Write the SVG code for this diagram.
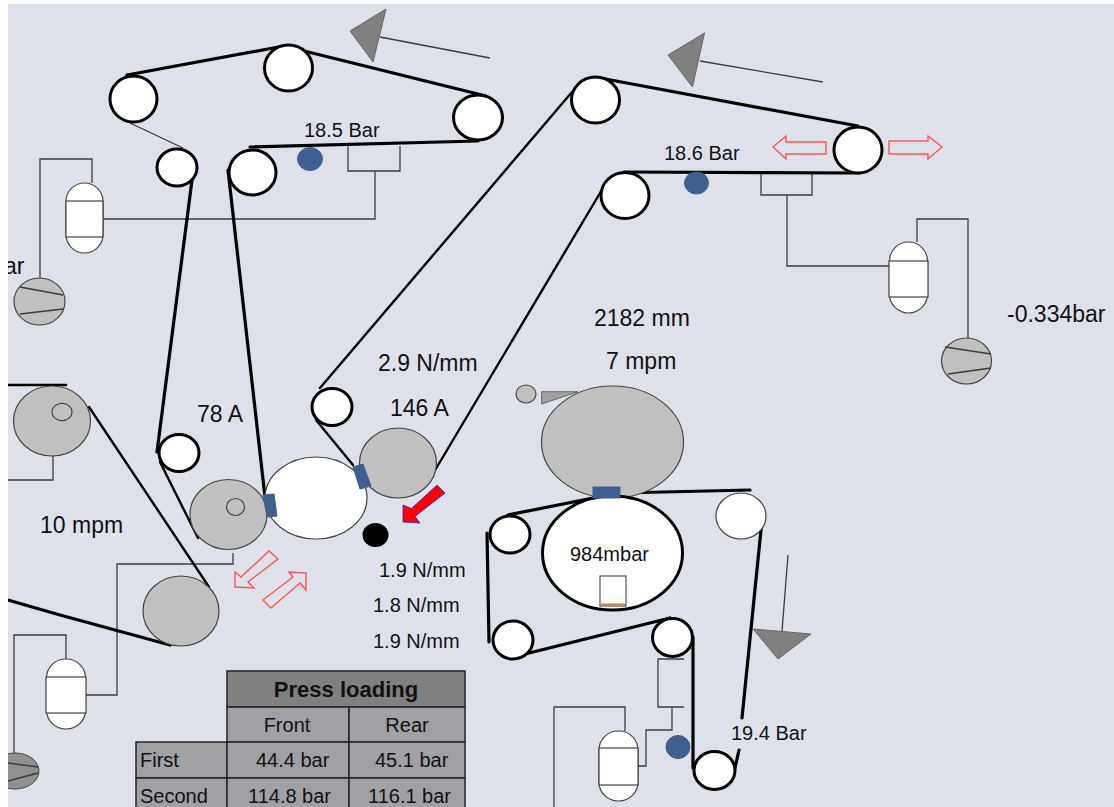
<svg xmlns="http://www.w3.org/2000/svg" width="1114" height="807" viewBox="0 0 1114 807">
<style>
text{font-family:"Liberation Sans",Arial,sans-serif;fill:#111;font-size:20px}
.l{font-size:23px}
.m{text-anchor:middle}
.belt{fill:none;stroke:#000;stroke-width:3.2;stroke-linecap:round;stroke-linejoin:round}
.belt2{fill:none;stroke:#000;stroke-width:2.4;stroke-linecap:round}
.thin{fill:none;stroke:#3c3c3c;stroke-width:1.3}
.roll{fill:#fff;stroke:#000;stroke-width:3}
.grey{fill:#c0c0c0;stroke:#444;stroke-width:1.2}
.white{fill:#fff;stroke:#444;stroke-width:1.2}
.blue{fill:#3d6090;stroke:#3d6090}
.tri{fill:#808080;stroke:#666;stroke-width:1}
.red{fill:none;stroke:#f55;stroke-width:1.4}
.cell{fill:#a0a0a5;stroke:#222;stroke-width:1.5}
</style>
<rect width="1114" height="807" fill="#dfe1ea"/>

<g id="connectors">
<path class="thin" d="M92 183V159H40V278"/>
<path class="thin" d="M103 219H375V171M348 146V171H400V146"/>
<path class="thin" d="M130 123L183 148"/>
<path class="thin" d="M380 37L490 58"/>
<path class="thin" d="M700 61L823 82"/>
<path class="thin" d="M787 195V266H889M761 174V195H812V174"/>
<path class="thin" d="M917 242V219H968V338"/>
<path class="thin" d="M53 456V480H8"/>
<path class="thin" d="M233 553V564H117V695H86"/>
<path class="thin" d="M66 659V635H14V755"/>
<path class="thin" d="M684 659H658V707H684M672 707V730H646V766H638"/>
<path class="thin" d="M625 731V707H554V807"/>
<path class="thin" d="M788 555L782 631"/>
<path class="belt" d="M127 75L284 46L486 96"/>
<path class="belt" d="M250 147L478 141"/>
<path class="belt" d="M192 180L157 452"/>
<path class="belt2" d="M160 462L198 538"/>
<path class="belt" d="M228 170L265 497"/>
<path class="belt2" d="M8 385H66"/>
<path class="belt2" d="M89 407L209 587"/>
<path class="belt" d="M8 600L60 615L170 645"/>
<path class="belt2" d="M572 92L320 388"/>
<path class="belt2" d="M316 420L353 465"/>
<path class="belt2" d="M603 188L431 477"/>
<path class="belt" d="M600 78L858 126"/>
<path class="belt" d="M624 172L859 173"/>
<path class="belt" d="M508 515L593 498"/>
<path class="belt" d="M620 493L750 490"/>
<path class="belt" d="M487 533L489 642"/>
<path class="belt" d="M525 654L670 618"/>
<path class="belt" d="M693 637V768"/>
<path class="belt" d="M762 520L742 718"/>
<path class="belt" d="M739 750L735 768"/>
</g>

<g id="tension-1"><polygon class="tri" points="386,9 350,31 373,62"/></g>
<g id="tension-2"><polygon class="tri" points="704.500,33 668,55 692.500,87"/></g>
<g id="tension-3"><polygon class="tri" points="753,629 811,634 778,659"/></g>

<g id="roller-a"><ellipse class="roll" cx="133.500" cy="99" rx="23.500" ry="23"/></g>
<g id="roller-b"><ellipse class="roll" cx="288.500" cy="68" rx="24" ry="23"/></g>
<g id="roller-c"><ellipse class="roll" cx="478" cy="117.500" rx="24.500" ry="22.500"/></g>
<g id="roller-d"><ellipse class="roll" cx="177" cy="167.500" rx="20" ry="18.500"/></g>
<g id="roller-e"><ellipse class="roll" cx="252.500" cy="172.500" rx="23.500" ry="22.500"/></g>
<g id="roller-f"><ellipse class="roll" cx="179" cy="453" rx="20" ry="18.500"/></g>
<g id="roller-j"><ellipse class="roll" cx="332" cy="407" rx="20" ry="18.500"/></g>
<g id="roller-r1"><ellipse class="roll" cx="595.500" cy="100" rx="24" ry="23"/></g>
<g id="roller-r2"><ellipse class="roll" cx="858" cy="150" rx="24" ry="23"/></g>
<g id="roller-r3"><ellipse class="roll" cx="625" cy="195.500" rx="24" ry="23"/></g>
<g id="roller-l1"><ellipse class="roll" cx="510" cy="534.500" rx="20" ry="18.500"/></g>
<g id="roller-l2"><ellipse class="roll" cx="513" cy="640" rx="20" ry="19"/></g>
<g id="roller-l3"><ellipse class="roll" cx="672.500" cy="637.500" rx="20" ry="19"/></g>
<g id="roller-l4"><ellipse class="roll" cx="714.500" cy="770.500" rx="20.500" ry="19"/></g>
<g id="roller-l5"><ellipse class="white" cx="741" cy="516" rx="25" ry="23"/></g>

<g id="grey-roll-g"><ellipse class="grey" cx="52" cy="421" rx="38.500" ry="35"/><ellipse class="grey" cx="62" cy="412" rx="10" ry="8.700"/></g>
<g id="press-white"><ellipse class="white" cx="316" cy="498" rx="51" ry="41"/></g>
<g id="grey-roll-h"><ellipse class="grey" cx="228.500" cy="514.500" rx="38.500" ry="35"/><ellipse class="grey" cx="235.500" cy="507" rx="9" ry="8.500"/></g>
<g id="grey-roll-i"><ellipse class="grey" cx="398" cy="463" rx="38.500" ry="35"/></g>
<g id="grey-roll-k"><ellipse class="grey" cx="181" cy="611" rx="38" ry="35"/></g>
<g id="blue-block-1"><polygon class="blue" points="263,495 274,494 277,516 267,517"/></g>
<g id="blue-block-2"><polygon class="blue" points="353,467 363,464 371,486 360,489"/></g>
<g id="black-dot"><ellipse cx="375.500" cy="535" rx="13" ry="12" fill="#000"/></g>
<g id="red-arrow"><polygon points="437,485 445,493 415,516.500 420,523 403,522 403,505 411.500,508.500" fill="#f00" stroke="#22f" stroke-width="0.800"/></g>
<g id="arrow-out"><polygon class="red" points="235,587 235,572 241,577 269,551 278,559 248,582 254,588"/></g>
<g id="arrow-in"><polygon class="red" points="306,573 289,572 293,577 263,600 271,608 300,583 306,590"/></g>
<g id="arrow-left"><polygon class="red" points="773,147 786,136 786,142 826,142 826,154 786,154 786,159"/></g>
<g id="arrow-right"><polygon class="red" points="942,147 928,136 928,141 889,141 889,154 928,154 928,159"/></g>

<g id="head-box">
<path d="M541.700 391.700H578L541.700 404Z" fill="#a0a0a5" stroke="#666"/>
<ellipse class="grey" cx="526" cy="394" rx="10" ry="9"/>
</g>
<g id="big-grey"><ellipse class="grey" cx="612.500" cy="442" rx="71" ry="56"/></g>
<g id="big-white"><ellipse class="roll" cx="612.500" cy="553" rx="70" ry="57"/>
<rect x="600" y="576" width="26" height="30" fill="#fff" stroke="#555" stroke-width="1.200"/>
<rect x="601" y="603.500" width="24" height="2" fill="#c8803c"/></g>
<g id="blue-block-3"><rect class="blue" x="593" y="487" width="27" height="11"/></g>

<g id="sensor-1"><ellipse class="blue" cx="310" cy="159" rx="12.500" ry="11.500"/></g>
<g id="sensor-2"><ellipse class="blue" cx="696.500" cy="183" rx="12" ry="11"/></g>
<g id="sensor-3"><ellipse class="blue" cx="678" cy="747" rx="12" ry="11.500"/></g>

<g id="capsule-1"><rect class="white" x="66" y="183" width="37" height="70" rx="18.500"/><rect class="white" x="66" y="201" width="37" height="36"/></g>
<g id="capsule-2"><rect class="white" x="889.500" y="242" width="38" height="71" rx="19"/><rect class="white" x="889" y="261" width="39" height="36"/></g>
<g id="capsule-3"><rect class="white" x="46.500" y="659" width="39" height="70" rx="19"/><rect class="white" x="46" y="677" width="40" height="36"/></g>
<g id="capsule-4"><rect class="white" x="599" y="731" width="39" height="70" rx="19"/><rect class="white" x="599" y="748" width="39" height="37"/></g>

<g id="gauge-1"><ellipse class="grey" cx="39.500" cy="301.500" rx="25.500" ry="23.500"/><path class="thin" d="M20 287L63 295M20 314L63 309"/></g>
<g id="gauge-2"><ellipse class="grey" cx="966.500" cy="361" rx="25" ry="23"/><path class="thin" d="M945 347L991 354M948 374L991 368"/></g>
<g id="gauge-3"><ellipse cx="15" cy="771" rx="24" ry="18" fill="#909090" stroke="#444"/><path class="thin" d="M8 763L38 767M8 781L38 773"/></g>

<g id="labels">
<text x="304" y="137">18.5 Bar</text>
<text x="664" y="160">18.6 Bar</text>
<text x="731" y="740">19.4 Bar</text>
<text x="4" y="274" class="l">ar</text>
<text class="l" x="1007" y="322">-0.334bar</text>
<text class="l" x="594" y="326">2182 mm</text>
<text class="l" x="606" y="369">7 mpm</text>
<text class="l" x="378" y="371">2.9 N/mm</text>
<text class="l" x="197" y="422">78 A</text>
<text class="l" x="390" y="416">146 A</text>
<text class="l" x="40" y="533">10 mpm</text>
<text x="570" y="561">984mbar</text>
<text x="379" y="577">1.9 N/mm</text>
<text x="373" y="612">1.8 N/mm</text>
<text x="373" y="648">1.9 N/mm</text>
</g>

<g id="press-table">
<rect x="227" y="671" width="238" height="36" fill="#808080" stroke="#222" stroke-width="1.500"/>
<rect class="cell" x="227" y="707" width="122" height="35"/>
<rect class="cell" x="349" y="707" width="116" height="35"/>
<rect class="cell" x="136" y="742" width="91" height="36"/>
<rect class="cell" x="227" y="742" width="122" height="36"/>
<rect class="cell" x="349" y="742" width="116" height="36"/>
<rect class="cell" x="136" y="778" width="91" height="36"/>
<rect class="cell" x="227" y="778" width="122" height="36"/>
<rect class="cell" x="349" y="778" width="116" height="36"/>
<text class="m" x="346" y="697" style="font-size:22px;font-weight:700">Press loading</text>
<text class="m" x="287" y="732">Front</text>
<text class="m" x="407" y="732">Rear</text>
<text x="140" y="767">First</text>
<text x="256" y="767">44.4 bar</text>
<text x="375" y="767">45.1 bar</text>
<text x="140" y="803">Second</text>
<text x="248" y="803">114.8 bar</text>
<text x="368" y="803">116.1 bar</text>
</g>

<rect x="0" y="0" width="8" height="807" fill="#fff"/>
<rect x="0" y="0" width="1114" height="4" fill="#fff"/>
</svg>
